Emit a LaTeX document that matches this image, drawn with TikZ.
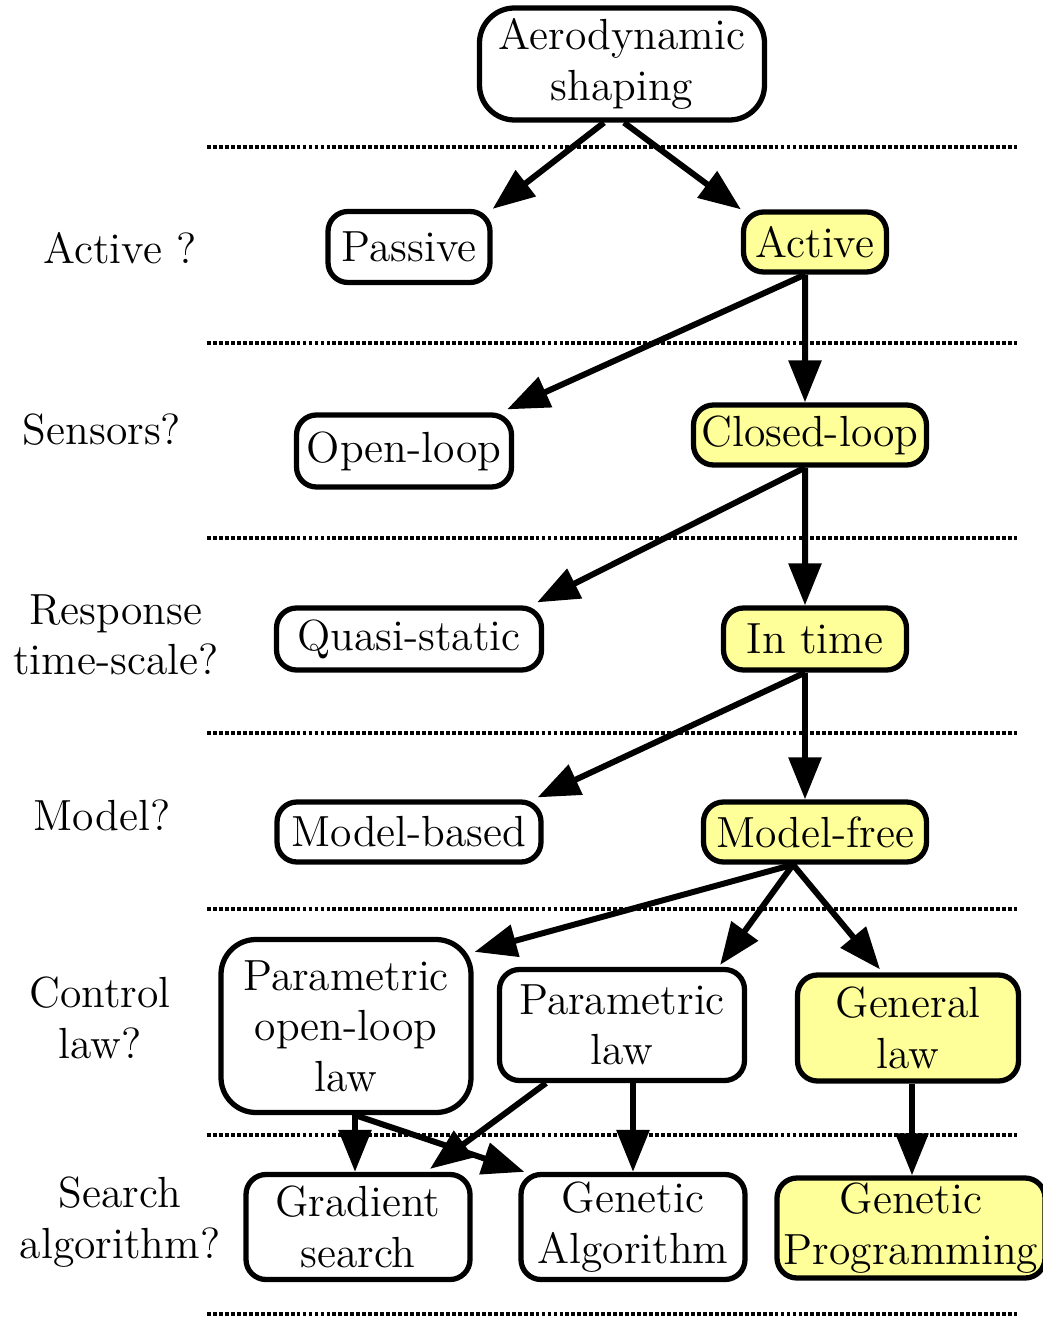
\documentclass[tikz,border=0pt]{standalone}
\usetikzlibrary{arrows.meta,calc}
\definecolor{pickyellow}{RGB}{255,255,153}
\newcommand{\sepline}[1]{\draw[black,line width=0.9pt,dash pattern=on 1.1pt off 0.6pt] (2.07,#1) -- (10.18,#1);}
\tikzset{
  choice/.style={draw=black,line width=1.5pt,rounded corners=0.2cm,align=center,inner sep=0pt,
    font=\fontsize{12.4}{14.4}\selectfont},
  chosen/.style={choice,fill=pickyellow},
  bigbox/.style={rounded corners=0.35cm},
  question/.style={align=center,font=\fontsize{12.4}{14.4}\selectfont},
  flow/.style={line width=1.7pt,-{Triangle[length=0.42cm,width=0.32cm]}},
}

\begin{document}
\begin{tikzpicture}
\useasboundingbox (0,0) rectangle (10.43,-13.17);
% separators
\sepline{-1.47}\sepline{-3.43}\sepline{-5.38}\sepline{-7.33}
\sepline{-9.09}\sepline{-11.35}\sepline{-13.14}
% questions
\node[question] (qactive) at (1.20,-2.48) {Active ?};
\node[question] (qsensor) at (1.02,-4.30) {Sensors?};
\node[question] (qtime) at (1.16,-6.35) {Response\\time-scale?};
\node[question] (qmodel) at (1.02,-8.15) {Model?};
\node[question] (qlaw) at (1.00,-10.18) {Control\\law?};
\node[question] (qsearch) at (1.20,-12.22) {Search\\algorithm?};
% boxes
\node[choice,bigbox,minimum width=2.85cm,minimum height=1.12cm] (aero) at (6.22,-0.64) {Aerodynamic\\shaping};
\node[choice,minimum width=1.62cm,minimum height=0.71cm] (passive) at (4.09,-2.47) {Passive};
\node[chosen,minimum width=1.43cm,minimum height=0.60cm] (active) at (8.15,-2.42) {Active};
\node[choice,minimum width=2.15cm,minimum height=0.72cm] (openloop) at (4.04,-4.51) {Open-loop};
\node[chosen,minimum width=2.33cm,minimum height=0.60cm] (closedloop) at (8.10,-4.35) {Closed-loop};
\node[choice,minimum width=2.65cm,minimum height=0.62cm] (quasi) at (4.09,-6.39) {Quasi-static};
\node[chosen,minimum width=1.83cm,minimum height=0.62cm] (intime) at (8.15,-6.39) {In time};
\node[choice,minimum width=2.64cm,minimum height=0.60cm] (modelbased) at (4.09,-8.32) {Model-based};
\node[chosen,minimum width=2.23cm,minimum height=0.60cm] (modelfree) at (8.15,-8.32) {Model-free};
\node[choice,bigbox,minimum width=2.50cm,minimum height=1.73cm] (paramol) at (3.46,-10.26) {Parametric\\open-loop\\law};
\node[choice,minimum width=2.45cm,minimum height=1.11cm] (paramlaw) at (6.22,-10.25) {Parametric\\law};
\node[chosen,minimum width=2.21cm,minimum height=1.06cm] (generallaw) at (9.08,-10.28) {General\\law};
\node[choice,minimum width=2.24cm,minimum height=1.05cm] (gradient) at (3.58,-12.27) {Gradient\\search};
\node[choice,minimum width=2.24cm,minimum height=1.05cm] (genalg) at (6.33,-12.27) {Genetic\\Algorithm};
\node[chosen,minimum width=2.68cm,minimum height=1.00cm] (genprog) at (9.11,-12.28) {Genetic\\Programming};
% arrows
\draw[flow] ($(aero.south)+(-0.18,0)$) -- (passive.north east);
\draw[flow] ($(aero.south)+(0.02,0)$) -- (active.north west);
\draw[flow] ($(active.south)+(-0.10,0)$) -- ($(openloop.north east)+(-0.07,0.03)$);
\draw[flow] ($(active.south)+(-0.10,0)$) -- ($(closedloop.north)+(-0.05,0)$);
\draw[flow] ($(closedloop.south)+(-0.05,0)$) -- ($(quasi.north east)+(-0.07,0.03)$);
\draw[flow] ($(closedloop.south)+(-0.05,0)$) -- ($(intime.north)+(-0.10,0)$);
\draw[flow] ($(intime.south)+(-0.10,0)$) -- ($(modelbased.north east)+(-0.06,0.02)$);
\draw[flow] ($(intime.south)+(-0.10,0)$) -- ($(modelfree.north)+(-0.10,0)$);
\draw[flow] ($(modelfree.south)+(-0.22,0)$) -- ($(paramol.north east)+(0.01,-0.15)$);
\draw[flow] ($(modelfree.south)+(-0.22,0)$) -- ($(paramlaw.north east)+(-0.27,0.02)$);
\draw[flow] ($(modelfree.south)+(-0.22,0)$) -- ($(generallaw.north)+(-0.28,0.03)$);
\draw[flow] ($(paramol.south)+(0.09,0)$) -- ($(gradient.north)+(-0.03,0)$);
\draw[flow] ($(paramol.south)+(0.09,0)$) -- ($(genalg.north west)+(0.06,0)$);
\draw[flow] ($(paramlaw.south)+(-0.76,0)$) -- ($(gradient.north)+(0.72,0.03)$);
\draw[flow] (paramlaw.south -| genalg.north) -- (genalg.north);
\draw[flow] ($(generallaw.south)+(0.04,0)$) -- ($(generallaw.south |- genprog.north)+(0.04,0)$);
\end{tikzpicture}
\end{document}
